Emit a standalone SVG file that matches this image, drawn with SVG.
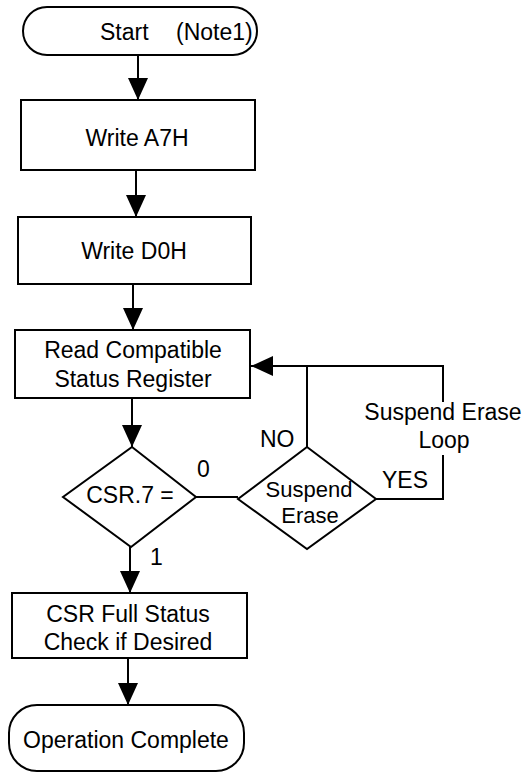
<svg xmlns="http://www.w3.org/2000/svg" width="525" height="773" viewBox="0 0 525 773">
<style>
.s{fill:#fff;stroke:#000;stroke-width:2}
.c{fill:none;stroke:#000;stroke-width:2}
text{font-family:"Liberation Sans",Arial,sans-serif;font-size:23px;fill:#000}
.m{text-anchor:middle}
.sm{font-size:22px}
</style>
<defs>
<marker id="ah" viewBox="0 0 22 20" refX="22" refY="10" markerWidth="22" markerHeight="20" markerUnits="userSpaceOnUse" orient="auto">
<path d="M0,0 L22,10 L0,20 Z" fill="#000"/>
</marker>
</defs>
<rect width="525" height="773" fill="#fff"/>
<g id="connectors">
<path class="c" d="M138,55 V100" marker-end="url(#ah)"/>
<path class="c" d="M136,170 V217" marker-end="url(#ah)"/>
<path class="c" d="M133,284 V330" marker-end="url(#ah)"/>
<path class="c" d="M132,398 V447" marker-end="url(#ah)"/>
<path class="c" d="M196,497 H238"/>
<path class="c" d="M307,447 V366"/>
<path class="c" d="M376,499 H443 V455"/>
<path class="c" d="M443,402 V366 H251" marker-end="url(#ah)"/>
<path class="c" d="M130,547 V593" marker-end="url(#ah)"/>
<path class="c" d="M128,658 V705" marker-end="url(#ah)"/>
<text x="197" y="477">0</text>
<text x="150" y="565">1</text>
<text x="260" y="447">NO</text>
<text x="382" y="488">YES</text>
<text x="443" y="420" class="m">Suspend Erase</text>
<text x="444" y="448" class="m">Loop</text>
</g>
<g id="start">
<rect class="s" x="23" y="7" width="234" height="48" rx="24"/>
<text x="100" y="40">Start</text>
<text x="176" y="40">(Note1)</text>
</g>
<g id="writeA7H">
<rect class="s" x="21" y="100" width="234" height="70"/>
<text x="137" y="146" class="m">Write A7H</text>
</g>
<g id="writeD0H">
<rect class="s" x="18" y="217" width="233" height="67"/>
<text x="134" y="259" class="m">Write D0H</text>
</g>
<g id="readCSR">
<rect class="s" x="15" y="330" width="235" height="68"/>
<text x="133" y="358" class="m">Read Compatible</text>
<text x="133" y="387" class="m">Status Register</text>
</g>
<g id="csr7">
<polygon class="s" points="132,447 196,497 131,547 63,497"/>
<text x="130" y="503" class="m">CSR.7 =</text>
</g>
<g id="suspendErase">
<polygon class="s" points="307,447 376,499 307,549 238,499"/>
<text x="309" y="497" class="m sm">Suspend</text>
<text x="310" y="523" class="m sm">Erase</text>
</g>
<g id="csrFull">
<rect class="s" x="12" y="593" width="235" height="65"/>
<text x="128" y="622" class="m">CSR Full Status</text>
<text x="128" y="650" class="m">Check if Desired</text>
</g>
<g id="opComplete">
<rect class="s" x="9" y="705" width="235" height="66" rx="28"/>
<text x="126" y="748" class="m">Operation Complete</text>
</g>
</svg>
